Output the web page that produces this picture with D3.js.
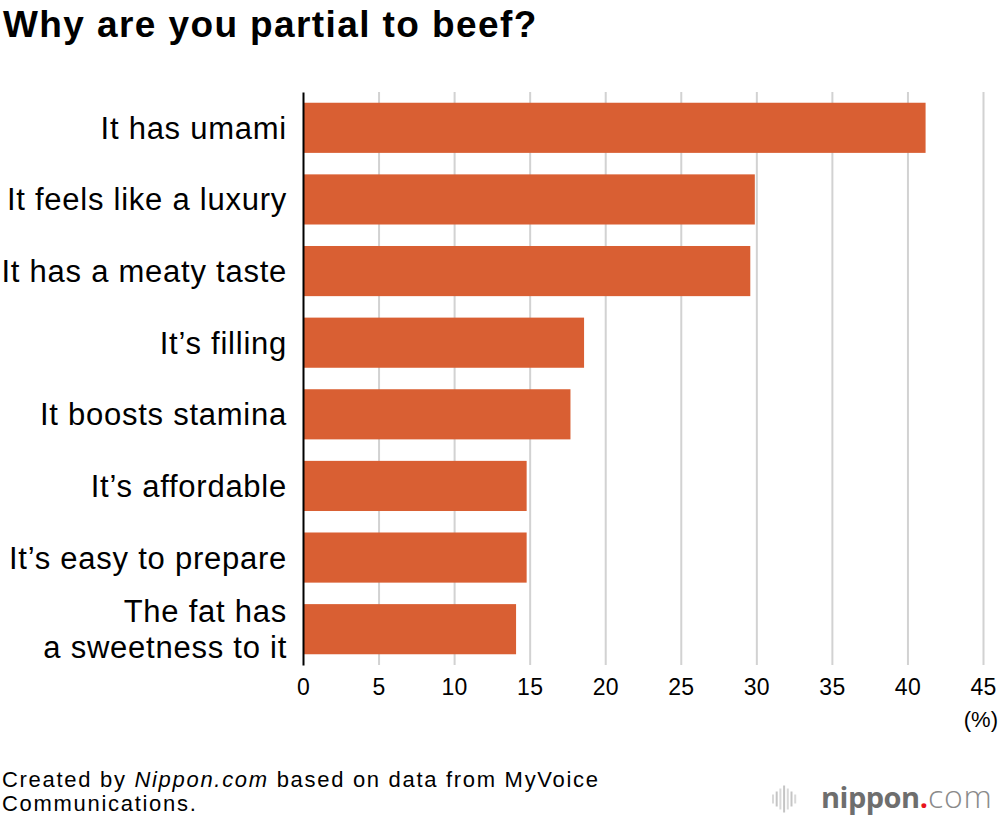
<!DOCTYPE html>
<html>
<head>
<meta charset="utf-8">
<script src="https://cdn.jsdelivr.net/npm/d3@7"></script>
<style>
    body { margin: 0; background: #fff; }
    svg { display: block; font-family: "Liberation Sans", Arial, Helvetica, sans-serif; }
    .grid line { stroke: #d2d2d2; stroke-width: 2; }
    .grid path { display: none; }
    .x-axis path, .x-axis line { display: none; }
    .x-axis text { font-size: 23px; fill: #000; letter-spacing: 0.3px; }
    .y-axis path { stroke: #000; stroke-width: 2; }
    .cat-label { font-size: 31px; fill: #000; letter-spacing: 0.75px; }
    .note { font-size: 22px; letter-spacing: 1.7px; }
</style>
</head>
<body>
<div id="chart-area"></div>
<script>

// Data (percent of respondents)
const categories = [
    "It has umami",
    "It feels like a luxury",
    "It has a meaty taste",
    "It’s filling",
    "It boosts stamina",
    "It’s affordable",
    "It’s easy to prepare",
    "The fat has\na sweetness to it"
];
const values = [41.2, 29.9, 29.6, 18.6, 17.7, 14.8, 14.8, 14.1];
const xTicks = [0, 5, 10, 15, 20, 25, 30, 35, 40, 45];

// little grey bars of the logo, heights only
const logoBars = [9, 15, 21, 27, 21, 15, 9];

let vis = {};

vis.margin = { top: 92, right: 17, bottom: 159, left: 303 };
vis.fullWidth = 1000;
vis.fullHeight = 824;
vis.width = vis.fullWidth - vis.margin.left - vis.margin.right;
vis.height = vis.fullHeight - vis.margin.top - vis.margin.bottom;

vis.root = d3.select("#chart-area").append("svg")
    .attr("width", vis.fullWidth)
    .attr("height", vis.fullHeight);

vis.svg = vis.root.append("g")
    .attr("transform", "translate(" + vis.margin.left + "," + vis.margin.top + ")");

// Scales
vis.x = d3.scaleLinear()
    .domain([0, 45])
    .range([0, vis.width]);

vis.y = d3.scaleBand()
    .domain(categories)
    .range([0, vis.height])
    .paddingInner(0.3)
    .paddingOuter(0.15);

// Title
vis.root.append("text")
    .attr("x", 3)
    .attr("y", 37)
    .attr("font-size", 37)
    .attr("font-weight", "bold")
    .attr("letter-spacing", 1.4)
    .text("Why are you partial to beef?");

// Vertical gridlines
vis.svg.append("g")
    .attr("class", "grid")
    .attr("transform", "translate(0," + vis.height + ")")
    .call(d3.axisBottom(vis.x)
        .tickValues(xTicks.slice(1))
        .tickSize(-vis.height)
        .tickFormat(""));

// Bars
vis.svg.selectAll(".bar")
    .data(values)
    .enter().append("rect")
    .attr("class", "bar")
    .attr("x", 0)
    .attr("y", (d, i) => vis.y(categories[i]))
    .attr("width", d => vis.x(d))
    .attr("height", vis.y.bandwidth())
    .attr("fill", "#d95f33");

// x axis labels
vis.svg.append("g")
    .attr("class", "x-axis")
    .attr("transform", "translate(0," + vis.height + ")")
    .call(d3.axisBottom(vis.x)
        .tickValues(xTicks)
        .tickSize(0)
        .tickPadding(14));

vis.svg.append("text")
    .attr("x", vis.width + 15)
    .attr("y", vis.height + 62)
    .attr("text-anchor", "end")
    .attr("font-size", 22)
    .text("(%)");

// y axis line (drawn after the bars so it sits on top)
vis.svg.append("g")
    .attr("class", "y-axis")
    .call(d3.axisLeft(vis.y).tickSize(0).tickFormat(""));

// Category labels, some wrap onto two lines
vis.svg.selectAll(".cat-label")
    .data(categories)
    .enter().append("text")
    .attr("class", "cat-label")
    .attr("text-anchor", "end")
    .each(function(d) {
        const lines = d.split("\n");
        const mid = vis.y(d) + vis.y.bandwidth() / 2;
        const lineGap = 36;
        const first = mid + 11 - (lines.length - 1) * lineGap / 2;
        lines.forEach((line, k) => {
            d3.select(this).append("tspan")
                .attr("x", -16)
                .attr("y", first + k * lineGap)
                .text(line);
        });
    });

// Source note
let note = vis.root.append("text")
    .attr("class", "note")
    .attr("x", 2)
    .attr("y", 787);
note.append("tspan").text("Created by ");
note.append("tspan").attr("font-style", "italic").text("Nippon.com");
note.append("tspan").text(" based on data from MyVoice");
vis.root.append("text")
    .attr("class", "note")
    .attr("x", 2)
    .attr("y", 811)
    .text("Communications.");

// nippon.com logo
let logo = vis.root.append("g").attr("transform", "translate(773,799)");
logo.selectAll("line")
    .data(logoBars)
    .enter().append("line")
    .attr("x1", (d, i) => i * 3.7)
    .attr("x2", (d, i) => i * 3.7)
    .attr("y1", d => -d / 2)
    .attr("y2", d => d / 2)
    .attr("stroke", (d, i) => i % 2 ? "#c4c4c4" : "#d8d8d8")
    .attr("stroke-width", 2);

let logoText = vis.root.append("text")
    .attr("x", 821)
    .attr("y", 808)
    .attr("font-family", "'Open Sans', 'Noto Sans', sans-serif")
    .attr("font-size", 29);
logoText.append("tspan").attr("font-weight", "bold").attr("fill", "#6e6e6e")
    .attr("letter-spacing", -0.5).text("nippon");
logoText.append("tspan").attr("font-weight", "bold").attr("fill", "#e8141c").text(".");
logoText.append("tspan").attr("font-weight", 300).attr("fill", "#8a8a8a")
    .attr("font-size", 32).attr("letter-spacing", 0.8).text("com");

</script>
</body>
</html>
